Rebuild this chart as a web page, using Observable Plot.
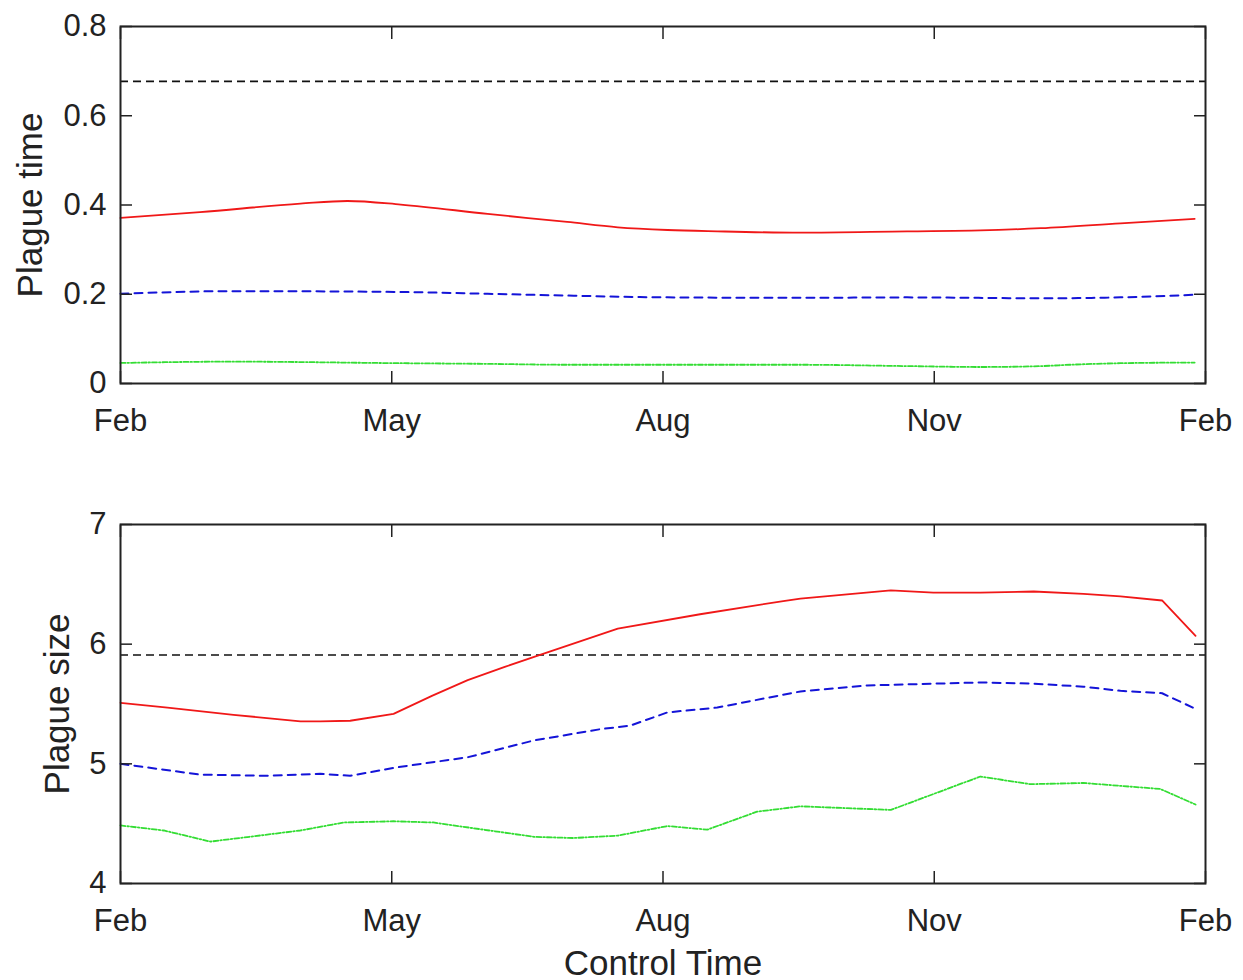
<!DOCTYPE html>
<html>
<head>
<meta charset="utf-8">
<script src="https://cdn.jsdelivr.net/npm/d3@7"></script>
<script src="https://cdn.jsdelivr.net/npm/@observablehq/plot@0.6"></script>
<style>
  html, body { margin: 0; padding: 0; background: #fff; }
  #chart svg { display: block; }
</style>
</head>
<body>
<div id="chart"></div>
<script>
// x in months after February (0 = Feb, 12 = next Feb)
const monthTicks = [0, 3, 6, 9, 12];
const monthLabels = ["Feb", "May", "Aug", "Nov", "Feb"];
const xLabel = "Control Time";

// ---- Top panel: Plague time ----
const topLabel = "Plague time";
const topTicks = [0, 0.2, 0.4, 0.6, 0.8];
const topTickLabels = ["0", "0.2", "0.4", "0.6", "0.8"];
const topReference = 0.677;
const topRedX = [0, 0.88, 1.99, 2.51, 3.1, 4.06, 4.94, 5.5, 6.05, 6.6, 7.52, 8.7, 9.51, 10.18, 11.06, 11.88];
const topRedY = [0.371, 0.384, 0.403, 0.409, 0.401, 0.380, 0.362, 0.350, 0.344, 0.341, 0.338, 0.341, 0.343, 0.348, 0.359, 0.369];
const topBlueX = [0, 1.25, 3.1, 4.06, 4.94, 6.05, 7.52, 8.7, 10.18, 11.06, 11.88];
const topBlueY = [0.201, 0.207, 0.205, 0.201, 0.197, 0.193, 0.192, 0.193, 0.191, 0.193, 0.199];
const topGreenX = [0, 1.25, 3.1, 4.06, 4.94, 7.52, 8.7, 9.51, 10.18, 10.5, 11.06, 11.88];
const topGreenY = [0.046, 0.049, 0.0455, 0.044, 0.042, 0.042, 0.039, 0.037, 0.039, 0.042, 0.0455, 0.047];

// ---- Bottom panel: Plague size ----
const bottomLabel = "Plague size";
const bottomTicks = [4, 5, 6, 7];
const bottomTickLabels = ["4", "5", "6", "7"];
const bottomReference = 5.91;
const botRedX = [0, 0.52, 1.25, 1.99, 2.21, 2.54, 3.02, 3.45, 3.84, 4.25, 4.64, 5.5, 6.41, 7.33, 7.52, 8.52, 8.99, 9.51, 10.1, 10.65, 11.06, 11.52, 11.89];
const botRedY = [5.51, 5.47, 5.41, 5.354, 5.354, 5.36, 5.418, 5.57, 5.70, 5.81, 5.91, 6.13, 6.25, 6.36, 6.38, 6.45, 6.43, 6.43, 6.44, 6.42, 6.40, 6.365, 6.07];
const botBlueX = [0, 0.88, 1.63, 2.21, 2.54, 3.05, 3.84, 4.57, 5.31, 5.64, 6.05, 6.6, 7.52, 8.26, 9.0, 9.51, 10.1, 10.65, 11.06, 11.52, 11.86];
const botBlueY = [5.0, 4.91, 4.90, 4.917, 4.90, 4.97, 5.055, 5.195, 5.29, 5.32, 5.43, 5.47, 5.605, 5.655, 5.67, 5.68, 5.67, 5.645, 5.61, 5.59, 5.47];
const botGreenX = [0, 0.48, 0.995, 1.99, 2.47, 3.02, 3.46, 4.57, 5.01, 5.5, 6.05, 6.49, 7.04, 7.52, 8.52, 9.51, 10.06, 10.65, 11.5, 11.89];
const botGreenY = [4.485, 4.443, 4.35, 4.443, 4.51, 4.52, 4.51, 4.39, 4.38, 4.40, 4.48, 4.45, 4.60, 4.645, 4.615, 4.894, 4.83, 4.84, 4.79, 4.66];

const zip = (xs, ys) => xs.map((x, i) => ({x, y: ys[i]}));

const FONT = "'Liberation Sans', Arial, Helvetica, sans-serif";
const axisColor = "#222";

function panel({height, marginTop, marginBottom, yDomain, yTicks, yTickLabels, yLabel, yLabelDx, ref, red, blue, green, curve, extra = []}) {
  return Plot.plot({
    width: 1243,
    height,
    marginLeft: 120,
    marginRight: 38,
    marginTop,
    marginBottom,
    style: {fontFamily: FONT, fontSize: "31px", color: axisColor, background: "#fff", overflow: "visible"},
    x: {domain: [0, 12]},
    y: {domain: yDomain},
    marks: [
      Plot.ruleY([ref], {stroke: "#111", strokeWidth: 1.6, strokeDasharray: "8,5"}),
      Plot.line(green, {x: "x", y: "y", stroke: "#33dd33", strokeWidth: 1.8, strokeDasharray: "5,2,1.5,2", curve}),
      Plot.line(blue, {x: "x", y: "y", stroke: "#1414d8", strokeWidth: 2, strokeDasharray: "8,6", curve}),
      Plot.line(red, {x: "x", y: "y", stroke: "#f01818", strokeWidth: 1.8, curve}),
      Plot.axisX({anchor: "bottom", ticks: monthTicks, tickSize: -12, tickPadding: 37, strokeWidth: 1.5,
        tickFormat: (d) => monthLabels[monthTicks.indexOf(d)], label: null, fontSize: 31}),
      Plot.axisX({anchor: "top", ticks: monthTicks, tickSize: -12, strokeWidth: 1.5, tickFormat: () => "", label: null}),
      Plot.axisY({anchor: "left", ticks: yTicks, tickSize: -12, tickPadding: 26, strokeWidth: 1.5,
        tickFormat: (d) => yTickLabels[yTicks.indexOf(d)], label: null, fontSize: 31}),
      Plot.axisY({anchor: "right", ticks: yTicks, tickSize: -12, strokeWidth: 1.5, tickFormat: () => "", label: null}),
      Plot.frame({stroke: axisColor, strokeWidth: 2}),
      Plot.text([yLabel], {frameAnchor: "left", text: (d) => d, rotate: -90, dx: yLabelDx,
        textAnchor: "middle", lineAnchor: "middle", fontSize: 35, fill: axisColor}),
      ...extra
    ]
  });
}

const topPanel = panel({
  height: 450, marginTop: 26, marginBottom: 67,
  yDomain: [0, 0.8], yTicks: topTicks, yTickLabels: topTickLabels,
  yLabel: topLabel, yLabelDx: -90, ref: topReference,
  red: zip(topRedX, topRedY), blue: zip(topBlueX, topBlueY), green: zip(topGreenX, topGreenY),
  curve: "monotone-x"
});

const bottomPanel = panel({
  height: 530, marginTop: 74, marginBottom: 97,
  yDomain: [4, 7], yTicks: bottomTicks, yTickLabels: bottomTickLabels,
  yLabel: bottomLabel, yLabelDx: -63, ref: bottomReference,
  red: zip(botRedX, botRedY), blue: zip(botBlueX, botBlueY), green: zip(botGreenX, botGreenY),
  curve: "linear",
  extra: [Plot.text([xLabel], {frameAnchor: "bottom", text: (d) => d, dy: 80, lineAnchor: "middle",
    textAnchor: "middle", fontSize: 35, fill: axisColor})]
});

const chart = document.getElementById("chart");
chart.appendChild(topPanel);
chart.appendChild(bottomPanel);
</script>
</body>
</html>
